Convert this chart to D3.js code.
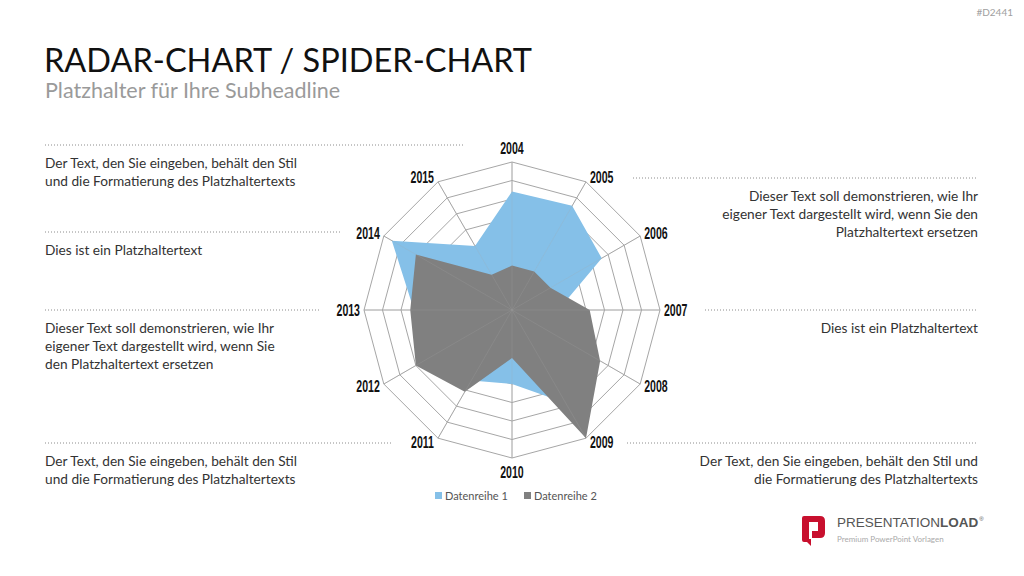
<!DOCTYPE html>
<html><head><meta charset="utf-8">
<script src="https://cdn.jsdelivr.net/npm/d3@7"></script>
<style>
html,body{margin:0;padding:0;background:#fff;}
svg{display:block;}
</style></head>
<body>
<svg id="chart" width="1024" height="576"></svg>
<script>
// ---- data ----
const categories = ["2004","2005","2006","2007","2008","2009","2010","2011","2012","2013","2014","2015"];
const seriesNames = ["Datenreihe 1","Datenreihe 2"];
const series1 = [32, 32.5, 28, 12.5, 20, 29, 20, 22, 22.5, 26.5, 37.5, 20];
const series2 = [12, 12, 12, 21, 27.5, 40, 13, 25.5, 30, 27.5, 30, 11];
const ringTicks = [5,10,15,20,25,30,35,40];
const maxValue = 40;

const title = "RADAR-CHART / SPIDER-CHART";
const subtitle = "Platzhalter für Ihre Subheadline";
const codeLabel = "#D2441";

const svg = d3.select("#chart");
const bodyFont = "Lato, 'Open Sans', sans-serif";
const textCol = "#333";

// header
svg.append("text").attr("x",1013).attr("y",16).attr("text-anchor","end")
  .attr("font-family",bodyFont).attr("font-size",10).attr("fill","#a0a0a0").text(codeLabel);
svg.append("text").attr("x",44).attr("y",72)
  .attr("font-family",bodyFont).attr("font-size",32.5).attr("fill","#111").text(title);
svg.append("text").attr("x",45).attr("y",98)
  .attr("font-family",bodyFont).attr("font-size",21.5).attr("fill","#9a9a9a").text(subtitle);

// ---- side texts ----
const blocks = [
  {x1:45,x2:465,y:145,anchor:"start",lines:["Der Text, den Sie eingeben, behält den Stil","und die Formatierung des Platzhaltertexts"]},
  {x1:45,x2:340,y:232,anchor:"start",lines:["Dies ist ein Platzhaltertext"]},
  {x1:45,x2:320,y:310,anchor:"start",lines:["Dieser Text soll demonstrieren, wie Ihr","eigener Text dargestellt wird, wenn Sie","den Platzhaltertext ersetzen"]},
  {x1:45,x2:393,y:443,anchor:"start",lines:["Der Text, den Sie eingeben, behält den Stil","und die Formatierung des Platzhaltertexts"]},
  {x1:633,x2:978,y:178,anchor:"end",lines:["Dieser Text soll demonstrieren, wie Ihr","eigener Text dargestellt wird, wenn Sie den","Platzhaltertext ersetzen"]},
  {x1:705,x2:978,y:310,anchor:"end",lines:["Dies ist ein Platzhaltertext"]},
  {x1:627,x2:978,y:443,anchor:"end",lines:["Der Text, den Sie eingeben, behält den Stil und","die Formatierung des Platzhaltertexts"]}
];
const bg = svg.append("g");
blocks.forEach(b=>{
  bg.append("line").attr("x1",b.x1).attr("x2",b.x2).attr("y1",b.y).attr("y2",b.y)
    .attr("stroke","#8c8c8c").attr("stroke-width",1).attr("stroke-dasharray","1,2");
  const t = bg.append("text").attr("font-family",bodyFont).attr("font-size",13.7)
    .attr("fill",textCol).attr("text-anchor",b.anchor);
  b.lines.forEach((l,i)=>{
    t.append("tspan").attr("x", b.anchor==="start"? b.x1 : b.x2)
      .attr("y", b.y + 23 + i*18).text(l);
  });
});

// ---- radar ----
const cx = 512, cy = 310, R = 148;
const angle = d3.scalePoint().domain(categories).range([0, 2*Math.PI*(categories.length-1)/categories.length]);
const r = d3.scaleLinear().domain([0,maxValue]).range([0,R]);
const g = svg.append("g").attr("transform",`translate(${cx},${cy})`);
const pt = (c,v)=>{const a=angle(c);return [Math.sin(a)*r(v), -Math.cos(a)*r(v)];};

// grid rings
ringTicks.forEach(t=>{
  g.append("path").attr("d", d3.line()(categories.map(c=>pt(c,t))) + "Z")
    .attr("fill","none").attr("stroke","#a6a6a6").attr("stroke-width",1);
});
// spokes
categories.forEach(c=>{
  const p = pt(c,maxValue);
  g.append("line").attr("x1",0).attr("y1",0).attr("x2",p[0]).attr("y2",p[1])
    .attr("stroke","#a6a6a6").attr("stroke-width",1);
});

const colors = ["#85c0e8","#808080"];
const radial = d3.lineRadial().angle((d,i)=>angle(categories[i])).radius(d=>r(d)).curve(d3.curveLinearClosed);
[series1, series2].forEach((s,k)=>{
  g.append("path").attr("d", radial(s)).attr("fill",colors[k]).attr("stroke","none");
});
// spokes faintly over the fill
categories.forEach(c=>{
  const p = pt(c,maxValue);
  g.append("line").attr("x1",0).attr("y1",0).attr("x2",p[0]).attr("y2",p[1])
    .attr("stroke","#a6a6a6").attr("stroke-width",0.6).attr("stroke-opacity",0.35);
});

// category labels (condensed bold)
categories.forEach(c=>{
  const a = angle(c);
  const p = pt(c,maxValue);
  const s = Math.sin(a), co = Math.cos(a);
  let anchor="middle", dx=0, dy=0;
  if (Math.abs(s) < 0.1) { dy = -co*14; }
  else { anchor = s>0 ? "start":"end"; dx = s>0? 4 : -4; dy = -co*5; }
  g.append("text")
    .attr("transform",`translate(${p[0]+dx},${p[1]+dy}) scale(0.64,1)`)
    .attr("dy","0.36em")
    .attr("text-anchor",anchor)
    .attr("font-family","'Liberation Sans',Arial,sans-serif")
    .attr("font-weight","bold").attr("font-size",16.5).attr("fill","#111").text(c);
});

// legend
const lg = svg.append("g").attr("transform","translate(435,496)");
seriesNames.forEach((n,i)=>{
  const x = i*89;
  lg.append("rect").attr("x",x).attr("y",-4).attr("width",7).attr("height",7).attr("fill",colors[i]);
  lg.append("text").attr("x",x+10).attr("y",0).attr("dy","0.35em")
    .attr("font-family",bodyFont).attr("font-size",11).attr("fill","#555").text(n);
});

// logo
const logo = svg.append("g").attr("transform","translate(802,516)");
logo.append("path").attr("d","M2,0 H18 Q23,0 23,5 V17 Q23,22 18,22 H9 V30 L5,26 H2 Q0,26 0,24 V2 Q0,0 2,0 Z").attr("fill","#c8102e");
logo.append("rect").attr("x",7).attr("y",6).attr("width",9).attr("height",9).attr("fill","#fff");
logo.append("rect").attr("x",7).attr("y",15).attr("width",3).attr("height",8).attr("fill","#fff");
const lt = logo.append("text").attr("x",35).attr("y",11).attr("font-family","'Liberation Sans',Arial,sans-serif")
  .attr("font-size",13.5).attr("fill","#555");
lt.append("tspan").text("PRESENTATION");
lt.append("tspan").attr("font-weight","bold").text("LOAD");
lt.append("tspan").attr("font-size",6).attr("dy",-6).attr("dx",1).text("®");
logo.append("text").attr("x",35).attr("y",26).attr("font-family",bodyFont)
  .attr("font-size",8).attr("fill","#aaa").text("Premium PowerPoint Vorlagen");
</script>
</body></html>
